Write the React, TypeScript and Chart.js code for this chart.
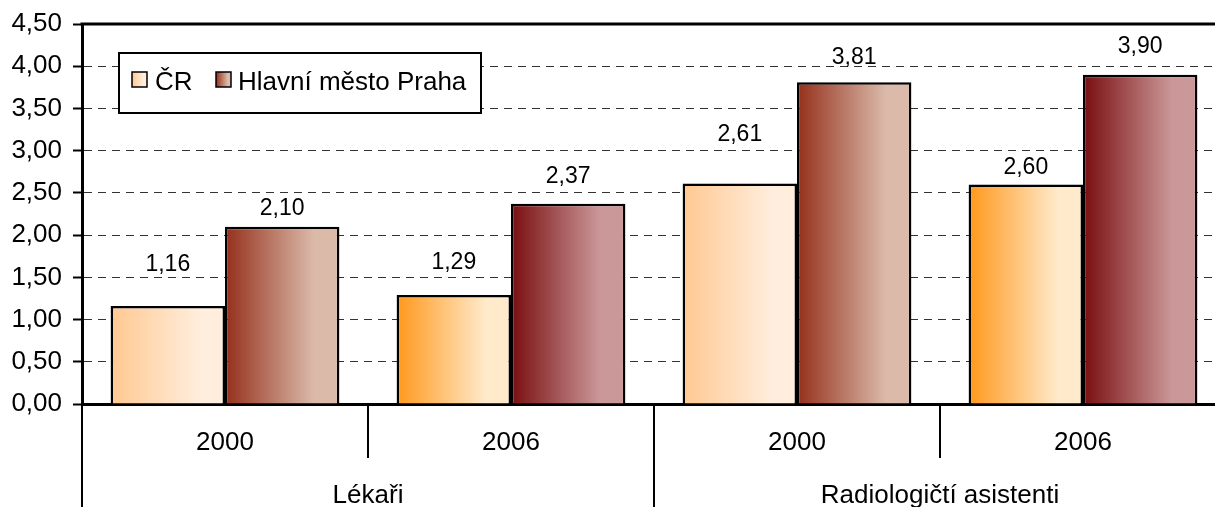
import React, { useEffect, useRef } from "react";
import { Chart, registerables } from "chart.js";

Chart.register(...registerables);

const years = ["2000", "2006", "2000", "2006"];
const groups = ["Lékaři", "Radiologičtí asistenti"];
const seriesNames = ["ČR", "Hlavní město Praha"];
const crValues = [1.16, 1.29, 2.61, 2.6];
const prahaValues = [2.1, 2.37, 3.81, 3.9];
const yTicks = [0, 0.5, 1, 1.5, 2, 2.5, 3, 3.5, 4, 4.5];

// label lift above bar top (px), styling only
const crLabelLift = [35, 26, 43, 10];
const prahaLabelLift = [12, 21, 18, 22];

const FONT = "'Liberation Sans', Arial, sans-serif";

// gradients: [2000, 2006] per series
const crColors = [
  ["#FFC891", "#FFEEDD"],
  ["#FF981C", "#FFEACB"],
];
const prahaColors = [
  ["#94301B", "#DBBAAA"],
  ["#790D0F", "#CB9899"],
];

const fmt = (v: number) => v.toFixed(2).replace(".", ",");

function makeGrad(c: CanvasRenderingContext2D, left: number, right: number, pair: string[]) {
  const g = c.createLinearGradient(left, 0, right, 0);
  g.addColorStop(0, pair[0]);
  g.addColorStop(0.78, pair[1]);
  g.addColorStop(1, pair[1]);
  return g;
}

export default function App() {
  const ref = useRef<HTMLCanvasElement | null>(null);

  useEffect(() => {
    if (!ref.current) return;
    const catPct = 0.8;

    const barBg = (dsIndex: number, palette: string[][]) => (ctx: any) => {
      const chart = ctx.chart;
      const xs = chart.scales?.x;
      if (!xs || ctx.type !== "data" || !xs.width) return palette[0][1];
      const i = ctx.dataIndex;
      const center = xs.getPixelForValue(i);
      const catW = xs.width / years.length;
      const groupW = catW * catPct;
      const left = dsIndex === 0 ? center - groupW / 2 : center;
      const right = left + groupW / 2;
      return makeGrad(chart.ctx, left, right, palette[i % 2]);
    };

    const decor = {
      id: "decor",
      afterDatasetsDraw(chart: any) {
        const c: CanvasRenderingContext2D = chart.ctx;
        const lifts = [crLabelLift, prahaLabelLift];
        const vals = [crValues, prahaValues];
        c.save();
        c.fillStyle = "#000";
        c.font = `23px ${FONT}`;
        c.textAlign = "center";
        c.textBaseline = "alphabetic";
        for (let d = 0; d < 2; d++) {
          const meta = chart.getDatasetMeta(d);
          meta.data.forEach((el: any, i: number) => {
            c.fillText(fmt(vals[d][i]), el.x, el.y - lifts[d][i]);
          });
        }
        c.restore();
      },
      afterDraw(chart: any) {
        const c: CanvasRenderingContext2D = chart.ctx;
        const a = chart.chartArea;
        const xs = chart.scales.x;
        c.save();
        // top border
        c.strokeStyle = "#000";
        c.lineWidth = 3;
        c.beginPath();
        c.moveTo(a.left - 1.5, a.top);
        c.lineTo(a.right + 1.5, a.top);
        c.moveTo(a.right, a.top);
        c.lineTo(a.right, a.bottom);
        c.stroke();

        // category separators
        const catW = xs.width / years.length;
        c.lineWidth = 2;
        c.beginPath();
        for (let k = 0; k <= years.length; k++) {
          const x = Math.round(a.left + k * catW);
          const full = k % 2 === 0;
          c.moveTo(x, a.bottom);
          c.lineTo(x, full ? chart.height : a.bottom + 54);
        }
        c.stroke();

        // labels
        c.fillStyle = "#000";
        c.font = `26px ${FONT}`;
        c.textAlign = "center";
        c.textBaseline = "alphabetic";
        years.forEach((y, i) => {
          c.fillText(y, xs.getPixelForValue(i), a.bottom + 46);
        });
        groups.forEach((g, gi) => {
          const cx = a.left + (gi * 2 + 1) * catW;
          c.fillText(g, cx, a.bottom + 99);
        });

        // legend
        const lx = 119, ly = 53, lw = 362, lh = 60;
        c.fillStyle = "#fff";
        c.fillRect(lx, ly, lw, lh);
        c.strokeStyle = "#000";
        c.lineWidth = 2;
        c.strokeRect(lx, ly, lw, lh);
        const items = [
          { x: 132, tx: 155, pal: crColors[0], label: seriesNames[0] },
          { x: 216, tx: 238, pal: prahaColors[0], label: seriesNames[1] },
        ];
        items.forEach((it) => {
          const sx = it.x, sy = 72, s = 15;
          c.fillStyle = makeGrad(c, sx, sx + s, it.pal);
          c.fillRect(sx, sy, s, s);
          c.lineWidth = 1.5;
          c.strokeStyle = "#000";
          c.strokeRect(sx, sy, s, s);
          c.fillStyle = "#000";
          c.font = `26px ${FONT}`;
          c.textAlign = "left";
          c.textBaseline = "alphabetic";
          c.fillText(it.label, it.tx, 90);
        });
        c.restore();
      },
    };

    const chart = new Chart(ref.current, {
      type: "bar",
      data: {
        labels: years,
        datasets: [
          {
            label: seriesNames[0],
            data: crValues,
            backgroundColor: barBg(0, crColors),
            borderColor: "#000",
            borderWidth: 2.5,
            borderSkipped: "bottom",
            categoryPercentage: catPct,
            barPercentage: 1,
          },
          {
            label: seriesNames[1],
            data: prahaValues,
            backgroundColor: barBg(1, prahaColors),
            borderColor: "#000",
            borderWidth: 2.5,
            borderSkipped: "bottom",
            categoryPercentage: catPct,
            barPercentage: 1,
          },
        ],
      },
      options: {
        responsive: false,
        animation: false,
        events: [],
        layout: { padding: { top: 24, right: 14, left: 0, bottom: 0 } },
        plugins: {
          legend: { display: false },
          tooltip: { enabled: false },
          title: { display: false },
        },
        scales: {
          x: {
            grid: { display: false },
            ticks: { display: false },
            border: { display: true, color: "#000", width: 3 },
            afterFit: (s: any) => {
              s.height = 103;
            },
          },
          y: {
            min: 0,
            max: 4.5,
            afterBuildTicks: (s: any) => {
              s.ticks = yTicks.map((v) => ({ value: v }));
            },
            ticks: {
              callback: (v: any) => fmt(Number(v)),
              color: "#000",
              font: { family: FONT, size: 26, lineHeight: 0.5 },
              padding: 11,
            },
            grid: {
              color: "#333",
              lineWidth: 1,
              tickBorderDash: [],
              tickColor: "#000",
              tickWidth: 2,
              tickLength: 9,
            } as any,
            border: { display: true, color: "#000", width: 3, dash: [8, 6] },
            afterFit: (s: any) => {
              s.width = 82;
            },
          },
        },
      },
      plugins: [decor],
    });
    return () => chart.destroy();
  }, []);

  return (
    <div
      style={{
        position: "fixed",
        left: 0,
        top: 0,
        width: 1215,
        height: 507,
        overflow: "hidden",
        background: "#fff",
      }}
    >
      <canvas ref={ref} width={1240} height={507} style={{ display: "block" }} />
    </div>
  );
}
